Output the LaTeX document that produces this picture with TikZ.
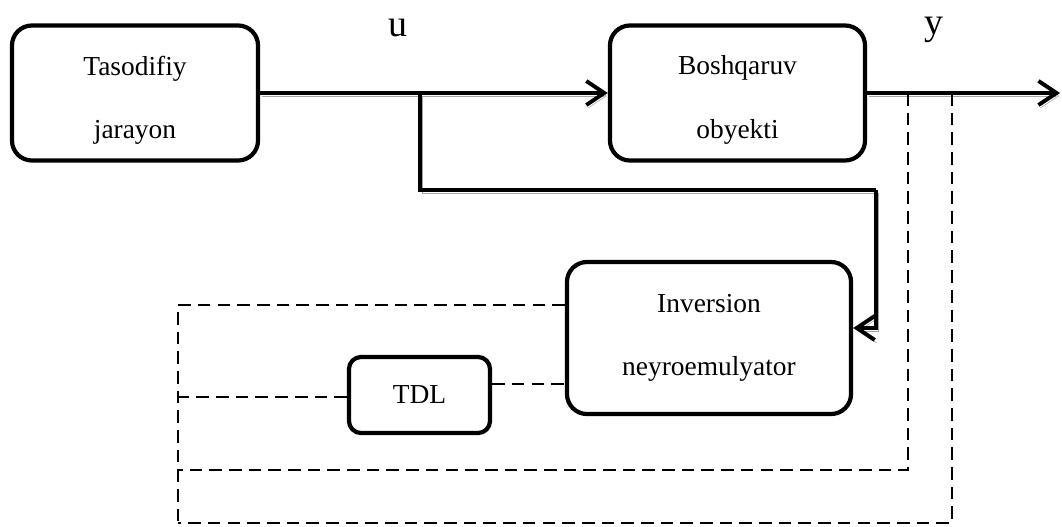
\documentclass[tikz,border=0pt]{standalone}
\usepackage{fontspec}
\setmainfont{Liberation Serif}
\usetikzlibrary{positioning, arrows.meta}

\newcommand{\lowtext}[1]{\raisebox{-5pt}[\height][\depth]{#1}}

\begin{document}
\begin{tikzpicture}[
    x=0.025cm, y=-0.025cm,
    font=\fontsize{19.5}{45}\selectfont,
    blockbox/.style={rectangle, rounded corners=0.5cm, draw=black, line width=3pt, align=center, inner sep=0pt},
    sig/.style={line width=2.8pt, -{Straight Barb[length=4.5mm, width=6mm]},
        preaction={draw=black!35, transform canvas={shift={(1.4pt,-2.1pt)}}}},
    plainsig/.style={line width=2.8pt,
        preaction={draw=black!35, transform canvas={shift={(1.4pt,-2.1pt)}}}},
    fb/.style={line width=1.1pt, dash pattern=on 9pt off 5pt},
    varlabel/.style={font=\fontsize{27}{30}\selectfont},
    ]

    \useasboundingbox (0,0) rectangle (1062,526);

    \node[blockbox, minimum width=6.15cm, minimum height=3.375cm] (src) at (135,93) {\lowtext{Tasodifiy}\\\lowtext{jarayon}};
    \node[blockbox, minimum width=6.375cm, minimum height=3.375cm] (plant) at (737.5,93) {\lowtext{Boshqaruv}\\\lowtext{obyekti}};
    \node[blockbox, minimum width=7.1cm, minimum height=3.8cm] (inv) at (709,338) {Inversion\\neyroemulyator};
    \node[blockbox, rounded corners=0.3cm, minimum width=3.525cm, minimum height=1.9cm] (tdl) at (419.5,395) {TDL};

    \node[varlabel] (u) at (398,28) {u};
    \node[varlabel] (y) at (934,30) {y};

    \coordinate (br) at (420,93);
    \coordinate (turn) at (876,190);
    \coordinate (invin) at (inv.east |- 0,328);
    \coordinate (out) at (1060,93);
    \coordinate (y1) at (908,93);
    \coordinate (y2) at (952,93);
    \coordinate (lt) at (178,305);
    \coordinate (lb) at (178,523);

    \draw[sig] (src.east) -- (plant.west);
    \draw[sig] (plant.east) -- (out);
    \draw[plainsig] (br) |- (turn);
    \draw[sig] (turn) |- (invin);

    \draw[fb] (y1) |- (178,470);
    \draw[fb] (y2) |- (lb);
    \draw[fb] (inv.west |- lt) -- (lt) -- (lb);
    \draw[fb] (tdl.west |- 0,397) -- (178,397);
    \draw[fb] (tdl.east |- 0,384) -- (inv.west |- 0,384);
\end{tikzpicture}
\end{document}
